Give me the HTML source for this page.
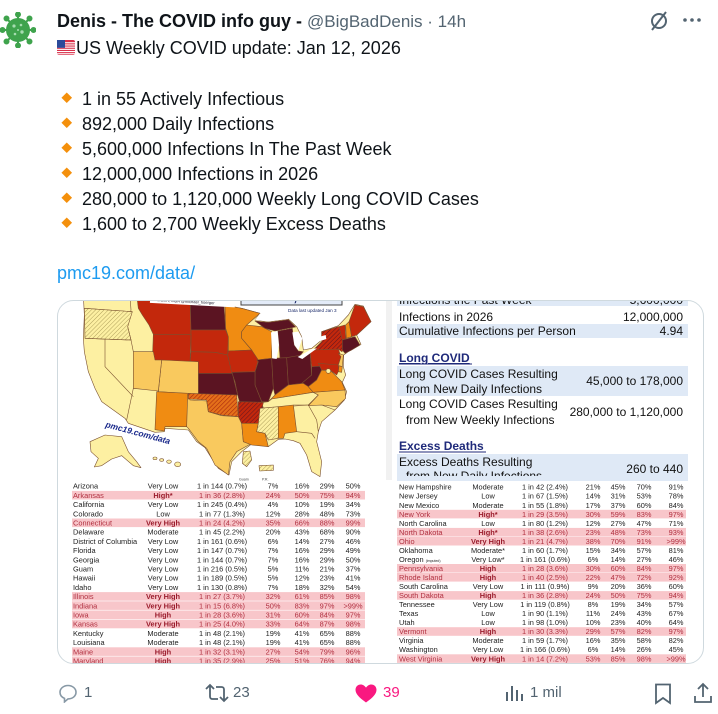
<!DOCTYPE html>
<html><head><meta charset="utf-8">
<style>
html,body{margin:0;padding:0;background:#fff;}
body{width:718px;height:714px;position:relative;overflow:hidden;font-family:"Liberation Sans",Arial,sans-serif;color:#0f1419;}
.abs{position:absolute;white-space:nowrap;}
.name{left:57px;top:10px;font-size:18px;line-height:22px;font-weight:bold;}
.name span{font-weight:normal;color:#536471;font-size:17px;}
.l2{left:76px;top:37px;font-size:18px;line-height:22px;}
.bul{left:82px;font-size:18px;line-height:22px;}
.link{left:57px;top:262px;font-size:18px;line-height:22px;color:#1d9bf0;}
.ft{font-size:15px;line-height:18px;color:#536471;top:684px;}
</style></head><body>

<!-- avatar -->
<svg class="abs" style="left:0;top:12px" width="36" height="36" viewBox="0 0 36 36">
<g stroke="#3fa34d" stroke-width="2" fill="#3fa34d">
<line x1="18" y1="18" x2="18" y2="2"/><line x1="18" y1="18" x2="18" y2="34"/>
<line x1="18" y1="18" x2="2" y2="18"/><line x1="18" y1="18" x2="34" y2="18"/>
<line x1="18" y1="18" x2="6.5" y2="6.5"/><line x1="18" y1="18" x2="29.5" y2="29.5"/>
<line x1="18" y1="18" x2="29.5" y2="6.5"/><line x1="18" y1="18" x2="6.5" y2="29.5"/>
<circle cx="18" cy="2.5" r="2"/><circle cx="18" cy="33.5" r="2"/><circle cx="2.5" cy="18" r="2"/><circle cx="33.5" cy="18" r="2"/>
<circle cx="6.5" cy="6.5" r="2"/><circle cx="29.5" cy="29.5" r="2"/><circle cx="29.5" cy="6.5" r="2"/><circle cx="6.5" cy="29.5" r="2"/>
<circle cx="18" cy="18" r="11"/>
</g>
<g fill="#a6dcb0"><circle cx="14" cy="14" r="1.6"/><circle cx="21" cy="13" r="1.3"/><circle cx="22" cy="20" r="1.7"/><circle cx="15" cy="22" r="1.3"/><circle cx="18" cy="18" r="1"/></g>
</svg>

<div class="abs name">Denis - The COVID info guy - <span>@BigBadDenis · 14h</span></div>

<!-- header right icons -->
<svg class="abs" style="left:648px;top:10px" width="22" height="22" viewBox="0 0 22 22"><circle cx="11" cy="11" r="7" fill="none" stroke="#536471" stroke-width="2"/><line x1="4" y1="20" x2="18" y2="2" stroke="#536471" stroke-width="2"/></svg>
<svg class="abs" style="left:682px;top:14px" width="20" height="12" viewBox="0 0 20 12"><circle cx="3" cy="6" r="1.8" fill="#536471"/><circle cx="10" cy="6" r="1.8" fill="#536471"/><circle cx="17" cy="6" r="1.8" fill="#536471"/></svg>

<!-- flag -->
<svg class="abs" style="left:57px;top:40px" width="18" height="15" viewBox="0 0 18 15">
<rect width="18" height="15" rx="2" fill="#d8304a"/>
<g fill="#fff"><rect y="2.2" width="18" height="1.1"/><rect y="4.4" width="18" height="1.1"/><rect y="6.6" width="18" height="1.1"/><rect y="8.8" width="18" height="1.1"/><rect y="11" width="18" height="1.1"/><rect y="13.2" width="18" height="1.1"/></g>
<rect width="8" height="7.8" fill="#2b4a9a"/>
</svg>
<div class="abs l2">US Weekly COVID update: Jan 12, 2026</div>

<!-- bullets -->
<svg class="abs" style="left:60px;top:90px" width="16" height="140" viewBox="0 0 16 140">
<g fill="#f4900c">
<rect x="3" y="4" width="7.5" height="7.5" transform="rotate(45 6.75 7.75)"/>
<rect x="3" y="29" width="7.5" height="7.5" transform="rotate(45 6.75 32.75)"/>
<rect x="3" y="54" width="7.5" height="7.5" transform="rotate(45 6.75 57.75)"/>
<rect x="3" y="79" width="7.5" height="7.5" transform="rotate(45 6.75 82.75)"/>
<rect x="3" y="104" width="7.5" height="7.5" transform="rotate(45 6.75 107.75)"/>
<rect x="3" y="129" width="7.5" height="7.5" transform="rotate(45 6.75 132.75)"/>
</g></svg>
<div class="abs bul" style="top:88px">1 in 55 Actively Infectious</div>
<div class="abs bul" style="top:113px">892,000 Daily Infections</div>
<div class="abs bul" style="top:138px">5,600,000 Infections In The Past Week</div>
<div class="abs bul" style="top:163px">12,000,000 Infections in 2026</div>
<div class="abs bul" style="top:188px">280,000 to 1,120,000 Weekly Long COVID Cases</div>
<div class="abs bul" style="top:213px">1,600 to 2,700 Weekly Excess Deaths</div>
<div class="abs link">pmc19.com/data/</div>

<!-- card -->
<svg class="abs" style="left:0;top:0" width="718" height="714" viewBox="0 0 718 714">
<defs>
<clipPath id="card"><rect x="57" y="300" width="647" height="364" rx="16"/></clipPath>
<pattern id="hPale" width="9" height="9" patternUnits="userSpaceOnUse" patternTransform="rotate(45)"><rect width="9" height="9" fill="#fdf0a2"/><line x1="0" y1="0" x2="0" y2="9" stroke="#8a7a3a" stroke-width="2"/></pattern>
<pattern id="hRed" width="9" height="9" patternUnits="userSpaceOnUse" patternTransform="rotate(45)"><rect width="9" height="9" fill="#c3280c"/><line x1="0" y1="0" x2="0" y2="9" stroke="#5b1422" stroke-width="3"/></pattern>
<pattern id="hOK" width="9" height="9" patternUnits="userSpaceOnUse" patternTransform="rotate(45)"><rect width="9" height="9" fill="#e4701a"/><line x1="0" y1="0" x2="0" y2="9" stroke="#a8260e" stroke-width="3.5"/></pattern>
<pattern id="hAR" width="9" height="9" patternUnits="userSpaceOnUse" patternTransform="rotate(45)"><rect width="9" height="9" fill="#c3280c"/><line x1="0" y1="0" x2="0" y2="9" stroke="#6a1620" stroke-width="3.5"/></pattern>
</defs>
<g clip-path="url(#card)">
<rect x="57" y="290" width="650" height="380" fill="#fff"/>

<!-- MAP in zoom coords -->
<g transform="translate(55 295) scale(0.33333)" stroke="#7a5030" stroke-width="1.8" stroke-linejoin="round">
<polygon fill="#fdf0a2" points="85,0 520,0 515,35 560,40 615,55 600,75 640,80 700,72 725,95 740,125 745,165 770,160 800,135 800,110 850,92 880,60 900,28 925,33 948,80 905,120 918,148 880,170 866,180 865,215 872,240 862,262 875,290 868,315 840,345 800,380 790,410 785,440 800,500 795,545 770,530 755,480 735,445 715,437 690,432 670,433 640,455 615,448 590,447 560,470 530,500 522,540 490,520 470,490 450,458 425,440 400,405 330,400 328,410 300,412 220,385 210,370 175,345 140,320 120,280 100,230 88,170 85,130 88,60"/>
<!-- western pale borders -->
<polyline fill="none" points="225,0 228,45 218,95 228,135"/>
<polyline fill="none" points="88,40 232,50"/>
<polyline fill="none" points="90,130 228,135 235,170 235,280 215,375"/>
<polyline fill="none" points="150,132 150,215 235,305"/>
<polyline fill="none" points="235,280 310,285 305,400"/>
<polygon fill="url(#hPale)" points="88,40 232,50 218,95 228,135 90,130"/>
<!-- red / dark / orange -->
<polygon fill="#c3280c" points="245,0 405,0 408,118 295,118 282,90 262,60 250,40"/>
<polygon fill="#5b1422" points="405,0 505,0 512,105 408,105"/>
<polygon fill="#c3280c" points="408,105 512,105 520,125 518,180 480,172 408,170"/>
<polygon fill="#c3280c" points="295,118 408,118 405,205 292,200"/>
<polygon fill="#c3280c" points="408,170 480,172 518,180 532,235 430,235 430,205 405,205"/>
<polygon fill="#f08c12" points="510,30 560,40 615,55 575,90 560,110 560,130 590,165 520,168 520,125 512,100"/>
<polygon fill="#f08c12" points="575,90 620,95 650,110 650,190 605,195 590,165 560,130 560,110"/>
<polygon fill="#c3280c" points="520,168 590,165 610,195 600,230 530,232 518,180"/>
<polygon fill="#5b1422" points="600,78 640,82 700,74 722,96 690,102 660,108 630,100"/>
<polygon fill="#5b1422" points="668,108 712,100 718,150 730,168 745,170 730,188 675,190 672,150"/>
<polygon fill="#5b1422" points="605,195 650,190 655,280 640,320 620,320 600,270 600,230 610,200"/>
<polygon fill="#5b1422" points="650,190 695,188 700,270 660,300 655,280"/>
<polygon fill="#5b1422" points="695,188 740,180 765,170 770,240 745,265 700,270"/>
<polygon fill="#5b1422" points="770,210 790,205 800,225 785,255 760,275 740,265 770,240"/>
<polygon fill="#f08c12" points="660,300 700,270 745,265 760,275 775,292 650,312 640,320"/>
<polygon fill="#fdf0a2" points="640,320 650,312 775,292 790,300 760,330 620,340 625,322"/>
<polygon fill="#5b1422" points="530,232 600,230 600,270 620,320 625,340 560,345 548,300 540,260"/>
<polygon fill="#5b1422" points="430,235 532,235 548,300 430,300"/>
<polygon fill="#f9c95e" points="320,195 430,200 430,298 310,290"/>
<polygon fill="#f9c95e" points="235,170 295,170 300,195 320,195 310,288 235,280"/>
<polygon fill="#f08c12" points="305,290 400,295 395,395 330,395 328,408 300,404"/>
<polygon fill="#f9c95e" points="398,298 405,298 405,315 455,318 460,350 500,362 550,365 560,385 565,440 590,445 545,470 525,500 520,540 480,510 455,460 430,440 400,400 395,395"/>
<polygon fill="url(#hOK)" points="400,295 545,300 550,365 500,360 460,350 455,315 400,312"/>
<polygon fill="url(#hAR)" points="550,320 625,322 620,345 610,385 560,385 550,365"/>
<polygon fill="#f08c12" points="560,385 610,385 605,410 630,415 640,455 590,450 565,440"/>
<polygon fill="url(#hPale)" points="615,340 670,335 670,430 640,435 630,415 605,410 610,385"/>
<polygon fill="#f08c12" points="670,335 715,330 725,410 690,415 685,430 670,430"/>
<polyline fill="none" points="715,330 760,330 785,375 790,410"/>
<polyline fill="none" points="725,410 770,415 780,430"/>
<polyline fill="none" points="760,330 800,330 840,345"/>
<polygon fill="#f08c12" points="760,275 785,255 800,225 830,230 860,260 870,285 775,292"/>
<polygon fill="#f9c95e" points="775,292 870,285 872,310 845,335 800,330 760,332 790,300"/>
<polygon fill="#c3280c" points="765,170 775,165 850,162 858,185 850,210 770,215"/>
<polygon fill="url(#hRed)" points="775,165 800,140 800,110 850,95 870,105 875,160 860,170 850,162"/>
<polygon fill="#f9c95e" points="850,175 865,180 862,215 852,222 850,210 858,185"/>
<polygon fill="#c3280c" points="790,205 850,210 852,225 845,240 825,225 800,225"/>
<polygon fill="#f08c12" points="852,212 862,215 860,232 850,230"/>
<circle cx="820" cy="228" r="7" fill="#fdf0a2"/>
<polygon fill="#c3280c" points="852,95 870,90 872,130 862,135"/>
<polygon fill="#f08c12" points="872,90 882,80 890,125 874,130"/>
<polygon fill="#c3280c" points="882,80 900,30 925,35 948,80 905,120 890,125"/>
<polygon fill="#5b1422" points="862,135 900,125 915,150 890,165 870,175 862,165"/>
<!-- lakes -->
<g fill="#fff" stroke="none">
<polygon points="648,112 668,108 672,150 665,192 652,190 650,150"/>
<polygon points="712,112 730,110 742,130 730,166 718,150"/>
<polygon points="728,186 770,162 786,160 742,192"/>
<polygon points="785,128 812,120 814,132 790,140"/>
<polygon points="615,55 640,62 700,60 700,72 640,80 600,75"/>
</g>
<!-- Alaska / Hawaii / territories -->
<polygon fill="#fdf0a2" points="105,440 150,420 200,425 220,470 245,500 258,518 235,512 200,482 170,492 140,512 118,516 130,490 108,470"/>
<g fill="#fdf0a2"><ellipse cx="300" cy="490" rx="6" ry="4"/><ellipse cx="320" cy="495" rx="6" ry="4"/><ellipse cx="342" cy="500" rx="7" ry="5"/><ellipse cx="368" cy="508" rx="9" ry="7"/></g>
<polygon fill="url(#hPale)" points="565,470 585,468 590,495 575,515 562,505"/>
<polygon fill="url(#hPale)" points="612,512 655,510 655,526 614,528"/>
</g>
<text x="239" y="480.5" font-size="3.6" fill="#444">Guam</text>
<text x="262" y="480.5" font-size="3.6" fill="#444">P.R.</text>
<text x="105" y="427" font-size="8.5" font-weight="bold" font-style="italic" fill="#1b2a8c" transform="rotate(15 105 427)">pmc19.com/data</text>

<!-- map header -->
<g transform="rotate(3 190 302)"><rect x="150" y="295" width="85" height="10" fill="#fff"/><text x="157" y="303" font-size="4" fill="#223">MSOR, MBA  @michael_hoerger</text></g>
<rect x="241" y="288" width="101" height="17" fill="#e3ebf8" stroke="#444" stroke-width="1"/>
<text x="291" y="301" font-size="14" font-weight="bold" fill="#1a2a6a" text-anchor="middle">Jan 12, 2026</text>
<text x="288" y="312" font-size="4.6" fill="#1a2a6a">Data last updated  Jan 3</text>
<rect x="386" y="300" width="6" height="180" fill="#f1f1f1"/>

<!-- right panel -->
<g font-size="12" fill="#111">
<rect x="397" y="294" width="291" height="12" fill="#dfe9f6"/>
<text x="399" y="304">Infections the Past Week</text><text x="683" y="304" text-anchor="end">5,600,000</text>
<text x="399" y="321">Infections in 2026</text><text x="683" y="321" text-anchor="end">12,000,000</text>
<rect x="397" y="324" width="291" height="14" fill="#dfe9f6"/>
<text x="399" y="335">Cumulative Infections per Person</text><text x="683" y="335" text-anchor="end">4.94</text>
<text x="399" y="362" font-weight="bold" fill="#1f2a7a" text-decoration="underline">Long COVID</text>
<rect x="399" y="363.5" width="73" height="1" fill="#1f2a7a"/>
<rect x="397" y="366" width="291" height="30" fill="#dfe9f6"/>
<text x="399" y="378">Long COVID Cases Resulting</text>
<text x="406" y="393">from New Daily Infections</text>
<text x="683" y="385" text-anchor="end">45,000 to 178,000</text>
<text x="399" y="408">Long COVID Cases Resulting</text>
<text x="406" y="424">from New Weekly Infections</text>
<text x="683" y="416" text-anchor="end">280,000 to 1,120,000</text>
<text x="399" y="450" font-weight="bold" fill="#1f2a7a">Excess Deaths</text>
<rect x="399" y="451.5" width="87" height="1" fill="#1f2a7a"/>
<rect x="397" y="454" width="291" height="28" fill="#dfe9f6"/>
<text x="399" y="466">Excess Deaths Resulting</text>
<text x="406" y="480">from New Daily Infections</text>
<text x="683" y="473" text-anchor="end">260 to 440</text>
</g>
<rect x="57" y="481" width="650" height="190" fill="#fff"/>
<rect x="397" y="476" width="291" height="5" fill="#dfe9f6"/>

<!-- left table highlights -->
<g fill="#f8c6ca">
<rect x="72" y="490.9" width="293" height="8.6"/><rect x="72" y="518.5" width="293" height="8.6"/>
<rect x="72" y="592.1" width="293" height="8.6"/><rect x="72" y="601.3" width="293" height="8.6"/>
<rect x="72" y="610.5" width="293" height="8.6"/><rect x="72" y="619.7" width="293" height="8.6"/>
<rect x="72" y="647.3" width="293" height="8.6"/><rect x="72" y="656.5" width="293" height="8.6"/>
<rect x="397" y="509.8" width="289" height="8.6"/><rect x="397" y="527.9" width="289" height="8.6"/>
<rect x="397" y="536.9" width="289" height="8.6"/><rect x="397" y="564.0" width="289" height="8.6"/>
<rect x="397" y="573.0" width="289" height="8.6"/><rect x="397" y="591.1" width="289" height="8.6"/>
<rect x="397" y="627.2" width="289" height="8.6"/><rect x="397" y="654.3" width="289" height="8.6"/>
</g>

<!-- left table -->
<g font-size="7.4" fill="#222">
<g><text x="73" y="488.7">Arizona</text><text x="163" y="488.7" text-anchor="middle">Very Low</text><text x="222" y="488.7" text-anchor="middle">1 in 144 (0.7%)</text><text x="273" y="488.7" text-anchor="middle">7%</text><text x="302" y="488.7" text-anchor="middle">16%</text><text x="327" y="488.7" text-anchor="middle">29%</text><text x="353" y="488.7" text-anchor="middle">50%</text></g>
<g fill="#b03040"><text x="73" y="497.9">Arkansas</text><text x="163" y="497.9" text-anchor="middle" font-weight="bold" fill="#9a1c2c">High*</text><text x="222" y="497.9" text-anchor="middle">1 in 36 (2.8%)</text><text x="273" y="497.9" text-anchor="middle">24%</text><text x="302" y="497.9" text-anchor="middle">50%</text><text x="327" y="497.9" text-anchor="middle">75%</text><text x="353" y="497.9" text-anchor="middle">94%</text></g>
<g><text x="73" y="507.1">California</text><text x="163" y="507.1" text-anchor="middle">Very Low</text><text x="222" y="507.1" text-anchor="middle">1 in 245 (0.4%)</text><text x="273" y="507.1" text-anchor="middle">4%</text><text x="302" y="507.1" text-anchor="middle">10%</text><text x="327" y="507.1" text-anchor="middle">19%</text><text x="353" y="507.1" text-anchor="middle">34%</text></g>
<g><text x="73" y="516.3">Colorado</text><text x="163" y="516.3" text-anchor="middle">Low</text><text x="222" y="516.3" text-anchor="middle">1 in 77 (1.3%)</text><text x="273" y="516.3" text-anchor="middle">12%</text><text x="302" y="516.3" text-anchor="middle">28%</text><text x="327" y="516.3" text-anchor="middle">48%</text><text x="353" y="516.3" text-anchor="middle">73%</text></g>
<g fill="#b03040"><text x="73" y="525.5">Connecticut</text><text x="163" y="525.5" text-anchor="middle" font-weight="bold" fill="#9a1c2c">Very High</text><text x="222" y="525.5" text-anchor="middle">1 in 24 (4.2%)</text><text x="273" y="525.5" text-anchor="middle">35%</text><text x="302" y="525.5" text-anchor="middle">66%</text><text x="327" y="525.5" text-anchor="middle">88%</text><text x="353" y="525.5" text-anchor="middle">99%</text></g>
<g><text x="73" y="534.7">Delaware</text><text x="163" y="534.7" text-anchor="middle">Moderate</text><text x="222" y="534.7" text-anchor="middle">1 in 45 (2.2%)</text><text x="273" y="534.7" text-anchor="middle">20%</text><text x="302" y="534.7" text-anchor="middle">43%</text><text x="327" y="534.7" text-anchor="middle">68%</text><text x="353" y="534.7" text-anchor="middle">90%</text></g>
<g><text x="73" y="543.9">District of Columbia</text><text x="163" y="543.9" text-anchor="middle">Very Low</text><text x="222" y="543.9" text-anchor="middle">1 in 161 (0.6%)</text><text x="273" y="543.9" text-anchor="middle">6%</text><text x="302" y="543.9" text-anchor="middle">14%</text><text x="327" y="543.9" text-anchor="middle">27%</text><text x="353" y="543.9" text-anchor="middle">46%</text></g>
<g><text x="73" y="553.1">Florida</text><text x="163" y="553.1" text-anchor="middle">Very Low</text><text x="222" y="553.1" text-anchor="middle">1 in 147 (0.7%)</text><text x="273" y="553.1" text-anchor="middle">7%</text><text x="302" y="553.1" text-anchor="middle">16%</text><text x="327" y="553.1" text-anchor="middle">29%</text><text x="353" y="553.1" text-anchor="middle">49%</text></g>
<g><text x="73" y="562.3">Georgia</text><text x="163" y="562.3" text-anchor="middle">Very Low</text><text x="222" y="562.3" text-anchor="middle">1 in 144 (0.7%)</text><text x="273" y="562.3" text-anchor="middle">7%</text><text x="302" y="562.3" text-anchor="middle">16%</text><text x="327" y="562.3" text-anchor="middle">29%</text><text x="353" y="562.3" text-anchor="middle">50%</text></g>
<g><text x="73" y="571.5">Guam</text><text x="163" y="571.5" text-anchor="middle">Very Low</text><text x="222" y="571.5" text-anchor="middle">1 in 216 (0.5%)</text><text x="273" y="571.5" text-anchor="middle">5%</text><text x="302" y="571.5" text-anchor="middle">11%</text><text x="327" y="571.5" text-anchor="middle">21%</text><text x="353" y="571.5" text-anchor="middle">37%</text></g>
<g><text x="73" y="580.7">Hawaii</text><text x="163" y="580.7" text-anchor="middle">Very Low</text><text x="222" y="580.7" text-anchor="middle">1 in 189 (0.5%)</text><text x="273" y="580.7" text-anchor="middle">5%</text><text x="302" y="580.7" text-anchor="middle">12%</text><text x="327" y="580.7" text-anchor="middle">23%</text><text x="353" y="580.7" text-anchor="middle">41%</text></g>
<g><text x="73" y="589.9">Idaho</text><text x="163" y="589.9" text-anchor="middle">Very Low</text><text x="222" y="589.9" text-anchor="middle">1 in 130 (0.8%)</text><text x="273" y="589.9" text-anchor="middle">7%</text><text x="302" y="589.9" text-anchor="middle">18%</text><text x="327" y="589.9" text-anchor="middle">32%</text><text x="353" y="589.9" text-anchor="middle">54%</text></g>
<g fill="#b03040"><text x="73" y="599.1">Illinois</text><text x="163" y="599.1" text-anchor="middle" font-weight="bold" fill="#9a1c2c">Very High</text><text x="222" y="599.1" text-anchor="middle">1 in 27 (3.7%)</text><text x="273" y="599.1" text-anchor="middle">32%</text><text x="302" y="599.1" text-anchor="middle">61%</text><text x="327" y="599.1" text-anchor="middle">85%</text><text x="353" y="599.1" text-anchor="middle">98%</text></g>
<g fill="#b03040"><text x="73" y="608.3">Indiana</text><text x="163" y="608.3" text-anchor="middle" font-weight="bold" fill="#9a1c2c">Very High</text><text x="222" y="608.3" text-anchor="middle">1 in 15 (6.8%)</text><text x="273" y="608.3" text-anchor="middle">50%</text><text x="302" y="608.3" text-anchor="middle">83%</text><text x="327" y="608.3" text-anchor="middle">97%</text><text x="353" y="608.3" text-anchor="middle">&gt;99%</text></g>
<g fill="#b03040"><text x="73" y="617.5">Iowa</text><text x="163" y="617.5" text-anchor="middle" font-weight="bold" fill="#9a1c2c">High</text><text x="222" y="617.5" text-anchor="middle">1 in 28 (3.6%)</text><text x="273" y="617.5" text-anchor="middle">31%</text><text x="302" y="617.5" text-anchor="middle">60%</text><text x="327" y="617.5" text-anchor="middle">84%</text><text x="353" y="617.5" text-anchor="middle">97%</text></g>
<g fill="#b03040"><text x="73" y="626.7">Kansas</text><text x="163" y="626.7" text-anchor="middle" font-weight="bold" fill="#9a1c2c">Very High</text><text x="222" y="626.7" text-anchor="middle">1 in 25 (4.0%)</text><text x="273" y="626.7" text-anchor="middle">33%</text><text x="302" y="626.7" text-anchor="middle">64%</text><text x="327" y="626.7" text-anchor="middle">87%</text><text x="353" y="626.7" text-anchor="middle">98%</text></g>
<g><text x="73" y="635.9">Kentucky</text><text x="163" y="635.9" text-anchor="middle">Moderate</text><text x="222" y="635.9" text-anchor="middle">1 in 48 (2.1%)</text><text x="273" y="635.9" text-anchor="middle">19%</text><text x="302" y="635.9" text-anchor="middle">41%</text><text x="327" y="635.9" text-anchor="middle">65%</text><text x="353" y="635.9" text-anchor="middle">88%</text></g>
<g><text x="73" y="645.1">Louisiana</text><text x="163" y="645.1" text-anchor="middle">Moderate</text><text x="222" y="645.1" text-anchor="middle">1 in 48 (2.1%)</text><text x="273" y="645.1" text-anchor="middle">19%</text><text x="302" y="645.1" text-anchor="middle">41%</text><text x="327" y="645.1" text-anchor="middle">65%</text><text x="353" y="645.1" text-anchor="middle">88%</text></g>
<g fill="#b03040"><text x="73" y="654.3">Maine</text><text x="163" y="654.3" text-anchor="middle" font-weight="bold" fill="#9a1c2c">High</text><text x="222" y="654.3" text-anchor="middle">1 in 32 (3.1%)</text><text x="273" y="654.3" text-anchor="middle">27%</text><text x="302" y="654.3" text-anchor="middle">54%</text><text x="327" y="654.3" text-anchor="middle">79%</text><text x="353" y="654.3" text-anchor="middle">96%</text></g>
<g fill="#b03040"><text x="73" y="663.5">Maryland</text><text x="163" y="663.5" text-anchor="middle" font-weight="bold" fill="#9a1c2c">High</text><text x="222" y="663.5" text-anchor="middle">1 in 35 (2.9%)</text><text x="273" y="663.5" text-anchor="middle">25%</text><text x="302" y="663.5" text-anchor="middle">51%</text><text x="327" y="663.5" text-anchor="middle">76%</text><text x="353" y="663.5" text-anchor="middle">94%</text></g>
</g>

<!-- right table -->
<g font-size="7.4" fill="#222">
<g><text x="399" y="489.7">New Hampshire</text><text x="488" y="489.7" text-anchor="middle">Moderate</text><text x="545" y="489.7" text-anchor="middle">1 in 42 (2.4%)</text><text x="593" y="489.7" text-anchor="middle">21%</text><text x="618" y="489.7" text-anchor="middle">45%</text><text x="644" y="489.7" text-anchor="middle">70%</text><text x="676" y="489.7" text-anchor="middle">91%</text></g>
<g><text x="399" y="498.7">New Jersey</text><text x="488" y="498.7" text-anchor="middle">Low</text><text x="545" y="498.7" text-anchor="middle">1 in 67 (1.5%)</text><text x="593" y="498.7" text-anchor="middle">14%</text><text x="618" y="498.7" text-anchor="middle">31%</text><text x="644" y="498.7" text-anchor="middle">53%</text><text x="676" y="498.7" text-anchor="middle">78%</text></g>
<g><text x="399" y="507.8">New Mexico</text><text x="488" y="507.8" text-anchor="middle">Moderate</text><text x="545" y="507.8" text-anchor="middle">1 in 55 (1.8%)</text><text x="593" y="507.8" text-anchor="middle">17%</text><text x="618" y="507.8" text-anchor="middle">37%</text><text x="644" y="507.8" text-anchor="middle">60%</text><text x="676" y="507.8" text-anchor="middle">84%</text></g>
<g fill="#b03040"><text x="399" y="516.8">New York</text><text x="488" y="516.8" text-anchor="middle" font-weight="bold" fill="#9a1c2c">High*</text><text x="545" y="516.8" text-anchor="middle">1 in 29 (3.5%)</text><text x="593" y="516.8" text-anchor="middle">30%</text><text x="618" y="516.8" text-anchor="middle">59%</text><text x="644" y="516.8" text-anchor="middle">83%</text><text x="676" y="516.8" text-anchor="middle">97%</text></g>
<g><text x="399" y="525.8">North Carolina</text><text x="488" y="525.8" text-anchor="middle">Low</text><text x="545" y="525.8" text-anchor="middle">1 in 80 (1.2%)</text><text x="593" y="525.8" text-anchor="middle">12%</text><text x="618" y="525.8" text-anchor="middle">27%</text><text x="644" y="525.8" text-anchor="middle">47%</text><text x="676" y="525.8" text-anchor="middle">71%</text></g>
<g fill="#b03040"><text x="399" y="534.9">North Dakota</text><text x="488" y="534.9" text-anchor="middle" font-weight="bold" fill="#9a1c2c">High*</text><text x="545" y="534.9" text-anchor="middle">1 in 38 (2.6%)</text><text x="593" y="534.9" text-anchor="middle">23%</text><text x="618" y="534.9" text-anchor="middle">48%</text><text x="644" y="534.9" text-anchor="middle">73%</text><text x="676" y="534.9" text-anchor="middle">93%</text></g>
<g fill="#b03040"><text x="399" y="543.9">Ohio</text><text x="488" y="543.9" text-anchor="middle" font-weight="bold" fill="#9a1c2c">Very High</text><text x="545" y="543.9" text-anchor="middle">1 in 21 (4.7%)</text><text x="593" y="543.9" text-anchor="middle">38%</text><text x="618" y="543.9" text-anchor="middle">70%</text><text x="644" y="543.9" text-anchor="middle">91%</text><text x="676" y="543.9" text-anchor="middle">&gt;99%</text></g>
<g><text x="399" y="552.9">Oklahoma</text><text x="488" y="552.9" text-anchor="middle">Moderate*</text><text x="545" y="552.9" text-anchor="middle">1 in 60 (1.7%)</text><text x="593" y="552.9" text-anchor="middle">15%</text><text x="618" y="552.9" text-anchor="middle">34%</text><text x="644" y="552.9" text-anchor="middle">57%</text><text x="676" y="552.9" text-anchor="middle">81%</text></g>
<g><text x="399" y="561.9">Oregon <tspan font-size="3.5">(imputed)</tspan></text><text x="488" y="561.9" text-anchor="middle">Very Low*</text><text x="545" y="561.9" text-anchor="middle">1 in 161 (0.6%)</text><text x="593" y="561.9" text-anchor="middle">6%</text><text x="618" y="561.9" text-anchor="middle">14%</text><text x="644" y="561.9" text-anchor="middle">27%</text><text x="676" y="561.9" text-anchor="middle">46%</text></g>
<g fill="#b03040"><text x="399" y="571.0">Pennsylvania</text><text x="488" y="571.0" text-anchor="middle" font-weight="bold" fill="#9a1c2c">High</text><text x="545" y="571.0" text-anchor="middle">1 in 28 (3.6%)</text><text x="593" y="571.0" text-anchor="middle">30%</text><text x="618" y="571.0" text-anchor="middle">60%</text><text x="644" y="571.0" text-anchor="middle">84%</text><text x="676" y="571.0" text-anchor="middle">97%</text></g>
<g fill="#b03040"><text x="399" y="580.0">Rhode Island</text><text x="488" y="580.0" text-anchor="middle" font-weight="bold" fill="#9a1c2c">High</text><text x="545" y="580.0" text-anchor="middle">1 in 40 (2.5%)</text><text x="593" y="580.0" text-anchor="middle">22%</text><text x="618" y="580.0" text-anchor="middle">47%</text><text x="644" y="580.0" text-anchor="middle">72%</text><text x="676" y="580.0" text-anchor="middle">92%</text></g>
<g><text x="399" y="589.0">South Carolina</text><text x="488" y="589.0" text-anchor="middle">Very Low</text><text x="545" y="589.0" text-anchor="middle">1 in 111 (0.9%)</text><text x="593" y="589.0" text-anchor="middle">9%</text><text x="618" y="589.0" text-anchor="middle">20%</text><text x="644" y="589.0" text-anchor="middle">36%</text><text x="676" y="589.0" text-anchor="middle">60%</text></g>
<g fill="#b03040"><text x="399" y="598.1">South Dakota</text><text x="488" y="598.1" text-anchor="middle" font-weight="bold" fill="#9a1c2c">High</text><text x="545" y="598.1" text-anchor="middle">1 in 36 (2.8%)</text><text x="593" y="598.1" text-anchor="middle">24%</text><text x="618" y="598.1" text-anchor="middle">50%</text><text x="644" y="598.1" text-anchor="middle">75%</text><text x="676" y="598.1" text-anchor="middle">94%</text></g>
<g><text x="399" y="607.1">Tennessee</text><text x="488" y="607.1" text-anchor="middle">Very Low</text><text x="545" y="607.1" text-anchor="middle">1 in 119 (0.8%)</text><text x="593" y="607.1" text-anchor="middle">8%</text><text x="618" y="607.1" text-anchor="middle">19%</text><text x="644" y="607.1" text-anchor="middle">34%</text><text x="676" y="607.1" text-anchor="middle">57%</text></g>
<g><text x="399" y="616.1">Texas</text><text x="488" y="616.1" text-anchor="middle">Low</text><text x="545" y="616.1" text-anchor="middle">1 in 90 (1.1%)</text><text x="593" y="616.1" text-anchor="middle">11%</text><text x="618" y="616.1" text-anchor="middle">24%</text><text x="644" y="616.1" text-anchor="middle">43%</text><text x="676" y="616.1" text-anchor="middle">67%</text></g>
<g><text x="399" y="625.2">Utah</text><text x="488" y="625.2" text-anchor="middle">Low</text><text x="545" y="625.2" text-anchor="middle">1 in 98 (1.0%)</text><text x="593" y="625.2" text-anchor="middle">10%</text><text x="618" y="625.2" text-anchor="middle">23%</text><text x="644" y="625.2" text-anchor="middle">40%</text><text x="676" y="625.2" text-anchor="middle">64%</text></g>
<g fill="#b03040"><text x="399" y="634.2">Vermont</text><text x="488" y="634.2" text-anchor="middle" font-weight="bold" fill="#9a1c2c">High</text><text x="545" y="634.2" text-anchor="middle">1 in 30 (3.3%)</text><text x="593" y="634.2" text-anchor="middle">29%</text><text x="618" y="634.2" text-anchor="middle">57%</text><text x="644" y="634.2" text-anchor="middle">82%</text><text x="676" y="634.2" text-anchor="middle">97%</text></g>
<g><text x="399" y="643.2">Virginia</text><text x="488" y="643.2" text-anchor="middle">Moderate</text><text x="545" y="643.2" text-anchor="middle">1 in 59 (1.7%)</text><text x="593" y="643.2" text-anchor="middle">16%</text><text x="618" y="643.2" text-anchor="middle">35%</text><text x="644" y="643.2" text-anchor="middle">58%</text><text x="676" y="643.2" text-anchor="middle">82%</text></g>
<g><text x="399" y="652.2">Washington</text><text x="488" y="652.2" text-anchor="middle">Very Low</text><text x="545" y="652.2" text-anchor="middle">1 in 166 (0.6%)</text><text x="593" y="652.2" text-anchor="middle">6%</text><text x="618" y="652.2" text-anchor="middle">14%</text><text x="644" y="652.2" text-anchor="middle">26%</text><text x="676" y="652.2" text-anchor="middle">45%</text></g>
<g fill="#b03040"><text x="399" y="661.3">West Virginia</text><text x="488" y="661.3" text-anchor="middle" font-weight="bold" fill="#9a1c2c">Very High</text><text x="545" y="661.3" text-anchor="middle">1 in 14 (7.2%)</text><text x="593" y="661.3" text-anchor="middle">53%</text><text x="618" y="661.3" text-anchor="middle">85%</text><text x="644" y="661.3" text-anchor="middle">98%</text><text x="676" y="661.3" text-anchor="middle">&gt;99%</text></g>
</g>
</g>
<rect x="57.5" y="300.5" width="646" height="363" rx="16" fill="none" stroke="#cfd9de" stroke-width="1"/>
</svg>

<!-- footer -->
<svg class="abs" style="left:58px;top:683px" width="20" height="20" viewBox="0 0 20 20"><path d="M10 2.5c4.4 0 8 2.9 8 6.8s-3.6 6.6-8 6.6l-3.5 3v-3.5C3.8 14.3 2 12 2 9.3 2 5.4 5.6 2.5 10 2.5z" fill="none" stroke="#8899a6" stroke-width="1.6"/></svg>
<div class="abs ft" style="left:84px">1</div>
<svg class="abs" style="left:204px;top:683px" width="26" height="20" viewBox="0 0 26 20"><g fill="none" stroke="#536471" stroke-width="1.8"><path d="M2 6l4-4 4 4M6 2.5v11c0 1.5 1 2.5 2.5 2.5H14"/><path d="M24 14l-4 4-4-4M20 17.5v-11C20 5 19 4 17.5 4H12"/></g></svg>
<div class="abs ft" style="left:233px">23</div>
<svg class="abs" style="left:355px;top:684px" width="22" height="19" viewBox="0 0 22 19"><path d="M11 18.5C4 13.5 0.5 10 0.5 5.8 0.5 2.8 2.8 0.5 5.7 0.5c2.2 0 4 1.3 5.3 3.1C12.3 1.8 14.1 0.5 16.3 0.5c2.9 0 5.2 2.3 5.2 5.3 0 4.2-3.5 7.7-10.5 12.7z" fill="#f91880"/></svg>
<div class="abs ft" style="left:383px;color:#f91880">39</div>
<svg class="abs" style="left:505px;top:684px" width="20" height="18" viewBox="0 0 20 18"><g fill="#536471"><rect x="1" y="8" width="2" height="9"/><rect x="6" y="2" width="2" height="15"/><rect x="11" y="6" width="2" height="11"/><rect x="16" y="10" width="2" height="7"/></g></svg>
<div class="abs ft" style="left:530px">1 mil</div>
<svg class="abs" style="left:654px;top:683px" width="18" height="22" viewBox="0 0 18 22"><path d="M2 1.5h14v18.5l-7-5-7 5z" fill="none" stroke="#536471" stroke-width="1.8"/></svg>
<svg class="abs" style="left:693px;top:682px" width="20" height="22" viewBox="0 0 20 22"><g fill="none" stroke="#536471" stroke-width="1.8"><path d="M10 2v13M5 7l5-5 5 5M2 14v6h16v-6"/></g></svg>
</body></html>
